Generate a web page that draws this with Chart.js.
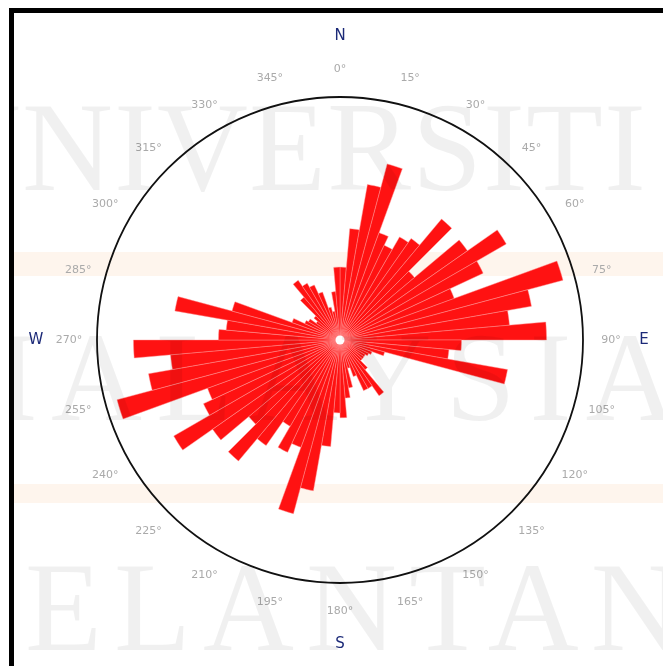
<!DOCTYPE html>
<html>
<head>
<meta charset="utf-8">
<script src="https://cdn.jsdelivr.net/npm/chart.js@4.4.1/dist/chart.umd.min.js"></script>
<style>
  html, body { margin: 0; padding: 0; background: #ffffff; }
  #wrap { width: 663px; height: 666px; position: relative; }
  canvas { display: block; }
</style>
</head>
<body>
<div id="wrap"><canvas id="rose" width="663" height="666"></canvas></div>
<script>
// Azimuth bins, 5 degrees each, clockwise from north
const binStarts = Array.from({ length: 72 }, (_, i) => i * 5);
const binLabels = binStarts.map(a => a + '°');

// Relative frequency of each 5° azimuth class (outer circle = 100)
const frequency = [
  30, 46, 65, 75, 47, 43, 49, 51, 65, 40, 64, 79,
  65, 50, 95, 80, 70, 85, 50, 45, 70, 19, 14, 13,
  12, 12, 12, 16, 28, 23, 23, 16, 12, 20, 24, 32,
  30, 44, 63, 74, 47, 51, 41, 53, 65, 49, 64, 79,
  62, 58, 95, 80, 70, 85, 50, 47, 69, 46, 21, 16,
  15, 12, 14, 23, 30, 27, 25, 21, 14, 12, 20, 30
];

// Degree labels shown every 15°
const degreeTicks = [0, 15, 30, 45, 60, 75, 90, 105, 120, 135, 150, 165,
                     180, 195, 210, 225, 240, 255, 270, 285, 300, 315, 330, 345];
// Compass letters
const compass = [['N', 0], ['E', 90], ['S', 180], ['W', 270]];
// Background lettering, one word per row
const bannerRows = ['UNIVERSITI', 'MALAYSIA', 'KELANTAN'];

const scaleMax = 100;

const backdrop = {
  id: 'backdrop',
  beforeDraw(chart) {
    const { ctx, width, height } = chart;
    ctx.save();
    ctx.fillStyle = '#ffffff';
    ctx.fillRect(0, 0, width, height);
    ctx.fillStyle = 'rgba(250, 215, 185, 0.25)';
    ctx.fillRect(14, 252, width, 24);
    ctx.fillRect(14, 484, width, 19);
    ctx.restore();
  },
  afterDatasetsDraw(chart) {
    const { ctx } = chart;
    const r = chart.scales.r;
    ctx.save();
    // outer circle
    ctx.beginPath();
    ctx.arc(r.xCenter, r.yCenter, r.drawingArea, 0, Math.PI * 2);
    ctx.strokeStyle = '#111111';
    ctx.lineWidth = 1.8;
    ctx.stroke();
    // hub
    ctx.beginPath();
    ctx.arc(r.xCenter, r.yCenter, 4.5, 0, Math.PI * 2);
    ctx.fillStyle = '#ffffff';
    ctx.fill();
    ctx.restore();
  },
  afterDraw(chart) {
    const { ctx, width, height } = chart;
    const r = chart.scales.r;
    ctx.save();
    ctx.textAlign = 'center';
    ctx.textBaseline = 'middle';
    // degree labels
    ctx.font = '11px "DejaVu Sans", sans-serif';
    ctx.fillStyle = '#aaaaaa';
    degreeTicks.forEach(a => {
      const p = r.getPointPosition(a / 5, r.drawingArea * 1.115);
      ctx.fillText(a + '°', p.x, p.y);
    });
    // compass letters
    ctx.font = '15px "DejaVu Sans", sans-serif';
    ctx.fillStyle = '#1c2a78';
    compass.forEach(([t, a]) => {
      const p = r.getPointPosition(a / 5, r.drawingArea + 61);
      ctx.fillText(t, p.x, p.y);
    });
    // background lettering, kept inside the frame
    ctx.save();
    ctx.beginPath();
    ctx.rect(14, 13, width, height);
    ctx.clip();
    ctx.font = '126px "Liberation Serif", serif';
    ctx.fillStyle = 'rgba(0, 0, 0, 0.06)';
    ctx.textBaseline = 'alphabetic';
    ctx.textAlign = 'left';
    ctx.letterSpacing = '1px';
    ctx.fillText(bannerRows[0], -70, 190);
    ctx.letterSpacing = '14px';
    ctx.fillText(bannerRows[1], -75, 420);
    ctx.letterSpacing = '12px';
    ctx.fillText(bannerRows[2], -78, 650);
    ctx.letterSpacing = '0px';
    ctx.restore();
    // frame
    ctx.strokeStyle = '#000000';
    ctx.lineWidth = 5;
    ctx.beginPath();
    ctx.moveTo(11.5, 700);
    ctx.lineTo(11.5, 10.5);
    ctx.lineTo(width + 10, 10.5);
    ctx.stroke();
    ctx.restore();
  }
};

new Chart(document.getElementById('rose'), {
  type: 'polarArea',
  data: {
    labels: binLabels,
    datasets: [{
      data: frequency,
      backgroundColor: 'rgb(255, 18, 18)',
      borderColor: 'rgba(255, 150, 150, 0.75)',
      borderWidth: 0.6
    }]
  },
  options: {
    responsive: false,
    animation: false,
    layout: { padding: { left: 97, right: 80, top: 97, bottom: 83 } },
    plugins: { legend: { display: false }, tooltip: { enabled: false } },
    scales: {
      r: {
        min: 0,
        max: scaleMax,
        ticks: { display: false },
        grid: { display: false },
        angleLines: { display: false },
        pointLabels: { display: false }
      }
    }
  },
  plugins: [backdrop]
});
</script>
</body>
</html>
